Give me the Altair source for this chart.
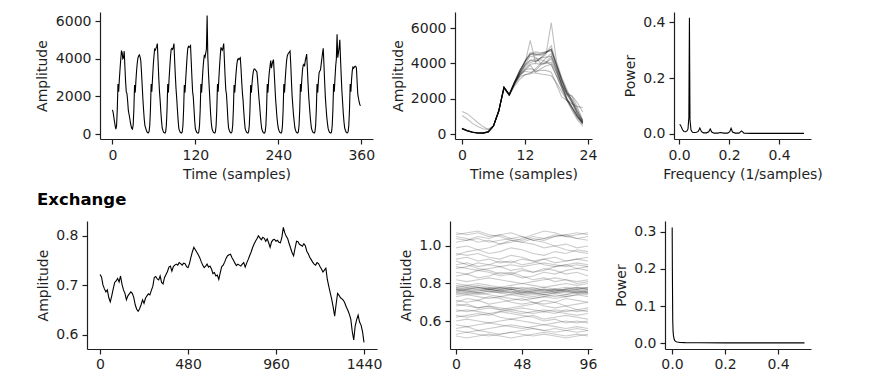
import altair as alt
import pandas as pd

FONT = "DejaVu Sans"
INK = "#1f1f1f"

# ---------------- data ----------------
# hourly series, one list of 24 samples per day (15 days = 360 samples)
traffic_days = [
    [1280, 1150, 900, 650, 420, 260, 450, 1300, 2650, 2250, 2900, 3450, 3950, 4400, 4350, 4000, 4050, 4400, 3600, 2800, 2250, 2150, 1750, 1250],
    [1050, 850, 600, 420, 300, 260, 480, 1300, 2600, 2200, 2850, 3400, 3800, 4050, 4150, 4200, 4100, 3900, 3300, 2600, 1900, 1300, 800, 450],
    [330, 200, 110, 70, 60, 130, 460, 1300, 2650, 2250, 2950, 3600, 4100, 4500, 4450, 4550, 4650, 4800, 3900, 3000, 2300, 1800, 1200, 700],
    [320, 190, 100, 60, 50, 120, 450, 1300, 2650, 2200, 2950, 3550, 4100, 4500, 4550, 4500, 4600, 4800, 3900, 3100, 2400, 1900, 1300, 750],
    [300, 180, 100, 60, 50, 120, 450, 1300, 2600, 2200, 2900, 3500, 4100, 4550, 4650, 4600, 4650, 4700, 3850, 3000, 2250, 1950, 1350, 700],
    [280, 170, 90, 55, 50, 120, 450, 1300, 2650, 2200, 2850, 3450, 3900, 4200, 4100, 4300, 4500, 6300, 4100, 3200, 2500, 1800, 1100, 600],
    [300, 180, 100, 60, 50, 120, 450, 1300, 2650, 2250, 2950, 3600, 4150, 4600, 4500, 4450, 4600, 4800, 3900, 3050, 2350, 2100, 1500, 800],
    [330, 200, 110, 65, 55, 125, 450, 1300, 2600, 2200, 2800, 3300, 3700, 3950, 4000, 3950, 4000, 4050, 3500, 2800, 2200, 1800, 1200, 700],
    [300, 180, 100, 60, 50, 120, 450, 1300, 2600, 2200, 2700, 3100, 3350, 3450, 3450, 3400, 3350, 3300, 2900, 2400, 1900, 1500, 1000, 600],
    [280, 170, 90, 55, 50, 120, 450, 1300, 2650, 2200, 2850, 3300, 3600, 3900, 3500, 3700, 3850, 3950, 3300, 2600, 1900, 1400, 900, 550],
    [300, 180, 100, 60, 50, 120, 450, 1300, 2650, 2200, 2900, 3450, 3900, 4150, 4250, 4300, 4350, 4400, 3700, 2800, 2000, 1500, 1000, 650],
    [320, 190, 100, 60, 50, 120, 450, 1300, 2650, 2250, 2900, 3400, 3650, 3700, 3600, 3900, 4050, 4250, 3500, 2700, 2000, 1500, 1000, 600],
    [300, 180, 100, 60, 50, 120, 450, 1300, 2650, 2200, 2800, 3250, 3350, 3400, 3700, 4000, 4300, 4550, 3700, 2800, 2000, 1450, 950, 600],
    [310, 180, 100, 60, 50, 120, 450, 1300, 2650, 2250, 2950, 3600, 4000, 5300, 4050, 4300, 4600, 5000, 4000, 3100, 2300, 1700, 1100, 650],
    [330, 200, 110, 65, 55, 125, 450, 1300, 2650, 2250, 2900, 3350, 3550, 3500, 3550, 3600, 3600, 3500, 2800, 2100, 1900, 1700, 1550, 1500],
]

# exchange rate, read every 8 samples (0 .. 1440)
exchange_values = [
    0.722, 0.717, 0.701, 0.693, 0.687, 0.691, 0.675, 0.667, 0.679, 0.693,
    0.706, 0.709, 0.714, 0.707, 0.719, 0.702, 0.691, 0.684, 0.671, 0.679,
    0.683, 0.687, 0.684, 0.676, 0.661, 0.652, 0.648, 0.653, 0.661, 0.671,
    0.664, 0.674, 0.679, 0.683, 0.681, 0.690, 0.698, 0.716, 0.718, 0.713,
    0.711, 0.719, 0.706, 0.703, 0.716, 0.722, 0.728, 0.737, 0.739, 0.729,
    0.738, 0.741, 0.743, 0.741, 0.746, 0.744, 0.741, 0.745, 0.744, 0.738,
    0.736, 0.744, 0.757, 0.768, 0.777, 0.772, 0.767, 0.762, 0.756, 0.748,
    0.741, 0.736, 0.739, 0.743, 0.737, 0.739, 0.733, 0.724, 0.726, 0.719,
    0.721, 0.712, 0.726, 0.738, 0.741, 0.747, 0.755, 0.760, 0.762, 0.763,
    0.756, 0.751, 0.745, 0.740, 0.743, 0.741, 0.739, 0.743, 0.746, 0.737,
    0.745, 0.752, 0.760, 0.767, 0.776, 0.783, 0.789, 0.794, 0.800, 0.796,
    0.792, 0.797, 0.795, 0.789, 0.794, 0.786, 0.777, 0.788, 0.792, 0.793,
    0.789, 0.791, 0.787, 0.786, 0.797, 0.817, 0.806, 0.799, 0.794, 0.784,
    0.775, 0.766, 0.760, 0.775, 0.789, 0.788, 0.783, 0.781, 0.779, 0.784,
    0.780, 0.769, 0.764, 0.757, 0.752, 0.747, 0.743, 0.741, 0.746, 0.744,
    0.738, 0.733, 0.727, 0.731, 0.735, 0.712, 0.698, 0.685, 0.672, 0.656,
    0.638, 0.662, 0.684, 0.680, 0.675, 0.673, 0.670, 0.664, 0.656, 0.650,
    0.642, 0.632, 0.607, 0.590, 0.618, 0.631, 0.640, 0.626, 0.620, 0.607,
    0.585,
]
exchange_step = 8

# 96-sample windows, read every 8 samples (0 .. 96)
window_step = 8
window_lines = [
    [1.07, 1.06, 1.07, 1.05, 1.06, 1.04, 1.05, 1.03, 1.04, 1.05, 1.06, 1.07, 1.06],
    [1.05, 1.04, 1.02, 1.03, 1.01, 1.02, 1.04, 1.06, 1.08, 1.07, 1.05, 1.04, 1.05],
    [1.02, 1.03, 1.05, 1.04, 1.06, 1.07, 1.05, 1.03, 1.02, 1.00, 1.01, 0.99, 1.00],
    [0.99, 1.00, 0.98, 0.99, 1.01, 1.03, 1.02, 1.04, 1.03, 1.05, 1.06, 1.04, 1.03],
    [1.06, 1.07, 1.08, 1.06, 1.05, 1.03, 1.02, 1.01, 0.99, 1.00, 0.98, 0.97, 0.96],
    [0.96, 0.95, 0.96, 0.94, 0.93, 0.95, 0.94, 0.92, 0.93, 0.91, 0.92, 0.93, 0.92],
    [0.93, 0.94, 0.92, 0.93, 0.91, 0.92, 0.90, 0.91, 0.93, 0.94, 0.92, 0.93, 0.94],
    [0.90, 0.91, 0.89, 0.90, 0.92, 0.91, 0.93, 0.92, 0.90, 0.89, 0.90, 0.91, 0.90],
    [0.88, 0.89, 0.91, 0.90, 0.89, 0.87, 0.88, 0.86, 0.87, 0.89, 0.90, 0.88, 0.89],
    [0.86, 0.85, 0.87, 0.86, 0.84, 0.85, 0.83, 0.84, 0.86, 0.85, 0.87, 0.88, 0.87],
    [0.92, 0.90, 0.88, 0.87, 0.85, 0.86, 0.84, 0.82, 0.83, 0.81, 0.82, 0.80, 0.81],
    [0.84, 0.85, 0.83, 0.84, 0.86, 0.85, 0.87, 0.86, 0.88, 0.87, 0.85, 0.86, 0.84],
    [0.95, 0.97, 0.98, 0.96, 0.97, 0.99, 0.98, 0.96, 0.95, 0.97, 0.96, 0.98, 0.97],
    [0.77, 0.78, 0.77, 0.76, 0.77, 0.76, 0.75, 0.76, 0.75, 0.76, 0.77, 0.76, 0.77],
    [0.76, 0.77, 0.76, 0.77, 0.76, 0.75, 0.76, 0.75, 0.74, 0.75, 0.76, 0.77, 0.76],
    [0.78, 0.77, 0.78, 0.77, 0.76, 0.77, 0.76, 0.75, 0.76, 0.75, 0.76, 0.75, 0.76],
    [0.75, 0.76, 0.75, 0.76, 0.75, 0.76, 0.74, 0.75, 0.74, 0.73, 0.74, 0.75, 0.74],
    [0.77, 0.76, 0.77, 0.78, 0.77, 0.78, 0.77, 0.76, 0.77, 0.76, 0.77, 0.78, 0.77],
    [0.79, 0.78, 0.79, 0.78, 0.77, 0.78, 0.77, 0.78, 0.76, 0.77, 0.76, 0.77, 0.78],
    [0.74, 0.75, 0.74, 0.75, 0.76, 0.75, 0.74, 0.73, 0.74, 0.75, 0.74, 0.76, 0.75],
    [0.76, 0.75, 0.76, 0.77, 0.78, 0.77, 0.76, 0.77, 0.78, 0.77, 0.76, 0.75, 0.76],
    [0.78, 0.79, 0.78, 0.77, 0.78, 0.77, 0.78, 0.77, 0.76, 0.77, 0.78, 0.77, 0.78],
    [0.75, 0.74, 0.75, 0.74, 0.73, 0.74, 0.73, 0.72, 0.73, 0.74, 0.73, 0.74, 0.75],
    [0.77, 0.76, 0.75, 0.76, 0.75, 0.74, 0.75, 0.76, 0.77, 0.76, 0.75, 0.76, 0.75],
    [0.80, 0.79, 0.80, 0.79, 0.78, 0.79, 0.80, 0.79, 0.78, 0.79, 0.80, 0.79, 0.80],
    [0.76, 0.77, 0.78, 0.77, 0.76, 0.77, 0.75, 0.74, 0.75, 0.76, 0.77, 0.78, 0.77],
    [0.73, 0.74, 0.73, 0.72, 0.73, 0.72, 0.71, 0.72, 0.73, 0.72, 0.73, 0.74, 0.73],
    [0.71, 0.70, 0.71, 0.69, 0.70, 0.71, 0.72, 0.70, 0.69, 0.70, 0.68, 0.69, 0.70],
    [0.68, 0.69, 0.67, 0.68, 0.66, 0.67, 0.68, 0.69, 0.71, 0.70, 0.72, 0.71, 0.70],
    [0.65, 0.66, 0.65, 0.64, 0.65, 0.66, 0.65, 0.64, 0.65, 0.64, 0.66, 0.65, 0.66],
    [0.66, 0.65, 0.66, 0.67, 0.66, 0.65, 0.64, 0.65, 0.66, 0.65, 0.64, 0.63, 0.64],
    [0.63, 0.62, 0.63, 0.64, 0.62, 0.61, 0.62, 0.63, 0.61, 0.62, 0.63, 0.62, 0.61],
    [0.70, 0.72, 0.71, 0.73, 0.72, 0.70, 0.69, 0.70, 0.68, 0.67, 0.68, 0.66, 0.67],
    [0.60, 0.61, 0.60, 0.59, 0.60, 0.61, 0.60, 0.59, 0.58, 0.59, 0.60, 0.59, 0.60],
    [0.58, 0.57, 0.58, 0.59, 0.58, 0.57, 0.56, 0.57, 0.58, 0.57, 0.56, 0.57, 0.56],
    [0.56, 0.57, 0.55, 0.56, 0.57, 0.58, 0.57, 0.56, 0.55, 0.56, 0.55, 0.54, 0.55],
    [0.53, 0.54, 0.53, 0.52, 0.53, 0.54, 0.53, 0.52, 0.53, 0.52, 0.51, 0.52, 0.53],
    [0.52, 0.51, 0.52, 0.53, 0.52, 0.51, 0.52, 0.53, 0.54, 0.53, 0.52, 0.53, 0.52],
    [0.55, 0.54, 0.55, 0.54, 0.53, 0.54, 0.55, 0.56, 0.55, 0.54, 0.55, 0.56, 0.55],
    [0.62, 0.63, 0.64, 0.63, 0.65, 0.64, 0.63, 0.62, 0.60, 0.61, 0.59, 0.60, 0.59],
    [0.69, 0.68, 0.67, 0.68, 0.67, 0.66, 0.67, 0.66, 0.65, 0.66, 0.65, 0.66, 0.65],
    [0.82, 0.81, 0.82, 0.83, 0.82, 0.81, 0.80, 0.81, 0.82, 0.83, 0.82, 0.81, 0.82],
    [0.89, 0.88, 0.87, 0.88, 0.89, 0.90, 0.89, 0.90, 0.91, 0.90, 0.89, 0.90, 0.89],
    [1.04, 1.03, 1.04, 1.02, 1.03, 1.04, 1.03, 1.05, 1.04, 1.06, 1.05, 1.06, 1.07],
]

# power spectra
traffic_freq = [0.003, 0.008, 0.014, 0.020, 0.026, 0.032, 0.036, 0.0395, 0.0417, 0.044,
                0.048, 0.054, 0.062, 0.070, 0.077, 0.0833, 0.090, 0.098, 0.110, 0.119,
                0.125, 0.131, 0.140, 0.155, 0.167, 0.178, 0.195, 0.203, 0.2083, 0.214,
                0.225, 0.240, 0.250, 0.260, 0.290, 0.330, 0.375, 0.420, 0.460, 0.500]
traffic_power = [0.035, 0.028, 0.015, 0.009, 0.008, 0.011, 0.018, 0.06, 0.415, 0.05,
                 0.014, 0.006, 0.005, 0.006, 0.009, 0.021, 0.008, 0.004, 0.004, 0.008,
                 0.018, 0.007, 0.003, 0.003, 0.005, 0.003, 0.003, 0.008, 0.020, 0.007,
                 0.003, 0.003, 0.011, 0.003, 0.002, 0.002, 0.002, 0.002, 0.002, 0.002]
exchange_freq = [0.0007, 0.0014, 0.0028, 0.0042, 0.0056, 0.0070, 0.0083, 0.0100, 0.0125,
                 0.0160, 0.0200, 0.0300, 0.0500, 0.1000, 0.2000, 0.3000, 0.4000, 0.5000]
exchange_power = [0.312, 0.20, 0.06, 0.03, 0.02, 0.014, 0.010, 0.007, 0.005,
                  0.0035, 0.0025, 0.0015, 0.001, 0.0006, 0.0004, 0.0003, 0.0003, 0.0003]

# ---------------- tables ----------------
rows = []
for d, day in enumerate(traffic_days):
    for h, v in enumerate(day):
        rows.append({"t": d * 24 + h, "hour": h, "day": d, "v": v})
traffic = pd.DataFrame(rows)

exchange = pd.DataFrame({"t": [i * exchange_step for i in range(len(exchange_values))],
                         "v": exchange_values})

wrows = []
for k, line in enumerate(window_lines):
    for i, v in enumerate(line):
        wrows.append({"t": i * window_step, "line": k, "v": v})
windows = pd.DataFrame(wrows)

spec_t = pd.DataFrame({"f": traffic_freq, "p": traffic_power})
spec_e = pd.DataFrame({"f": exchange_freq, "p": exchange_power})


def sc(lo, hi):
    return alt.Scale(domain=[lo, hi], nice=False, zero=False)


def ax(vals, fmt, title=None, tp=5, lp=4):
    return alt.Axis(values=vals, format=fmt, title=title, titlePadding=tp, labelPadding=lp)


LW = 1.1
p1 = alt.Chart(traffic).mark_line(color="black", strokeWidth=LW).encode(
    x=alt.X("t:Q", scale=sc(-18, 377), axis=ax([0, 120, 240, 360], "d", "Time (samples)")),
    y=alt.Y("v:Q", scale=sc(-265, 6480), axis=ax([0, 2000, 4000, 6000], "d", "Amplitude", 6)),
).properties(width=273, height=127)

p2 = alt.Chart(traffic).mark_line(color="black", strokeWidth=LW, opacity=0.25).encode(
    x=alt.X("hour:Q", scale=sc(-1.33, 24.76), axis=ax([0, 12, 24], "d", "Time (samples)")),
    y=alt.Y("v:Q", scale=sc(-283, 6906), axis=ax([0, 2000, 4000, 6000], "d", "Amplitude")),
    detail="day:N",
).properties(width=137, height=127)

p3 = alt.Chart(spec_t).mark_line(color="black", strokeWidth=LW).encode(
    x=alt.X("f:Q", scale=sc(-0.02, 0.528), axis=ax([0, 0.2, 0.4], ".1f", "Frequency (1/samples)")),
    y=alt.Y("p:Q", scale=sc(-0.018, 0.436), axis=ax([0, 0.2, 0.4], ".1f", "Power")),
).properties(width=137, height=127)

p4 = alt.Chart(exchange).mark_line(color="black", strokeWidth=LW).encode(
    x=alt.X("t:Q", scale=sc(-71, 1511), axis=ax([0, 480, 960, 1440], "d", lp=3)),
    y=alt.Y("v:Q", scale=sc(0.5717, 0.830), axis=ax([0.6, 0.7, 0.8], ".1f", "Amplitude")),
).properties(
    width=290, height=128,
    title=alt.TitleParams("Exchange", anchor="start", frame="group", dx=-50, offset=13,
                          fontSize=16.5, fontWeight="bold", font=FONT, color="black"),
)

p5 = alt.Chart(windows).mark_line(color="black", strokeWidth=LW, opacity=0.2).encode(
    x=alt.X("t:Q", scale=sc(-4.36, 98.9), axis=ax([0, 48, 96], "d", lp=3)),
    y=alt.Y("v:Q", scale=sc(0.451, 1.133), axis=ax([0.6, 0.8, 1.0], ".1f", "Amplitude")),
    detail="line:N",
).properties(width=142, height=128)

p6 = alt.Chart(spec_e).mark_line(color="black", strokeWidth=LW).encode(
    x=alt.X("f:Q", scale=sc(-0.0264, 0.5245), axis=ax([0, 0.2, 0.4], ".1f", lp=3)),
    y=alt.Y("p:Q", scale=sc(-0.0162, 0.3297), axis=ax([0, 0.1, 0.2, 0.3], ".1f", "Power")),
).properties(width=146, height=128)

spacer = alt.Chart(pd.DataFrame({"a": [0]})).mark_point(opacity=0, size=0).encode(
    x=alt.value(6), y=alt.value(5)
).properties(width=13, height=10)

row1 = alt.hconcat(spacer, alt.hconcat(p1, p2, p3, spacing=82, bounds="flush"),
                   spacing=0, bounds="flush")
row2 = alt.hconcat(p4, p5, p6, spacing=73, bounds="flush")

chart = alt.vconcat(row1, row2, spacing=10).properties(
    padding={"left": 27, "top": 4, "right": 5, "bottom": 1}
).configure_axis(
    grid=False,
    domainColor=INK, domainWidth=1.2,
    tickColor=INK, tickWidth=1.2, tickSize=5,
    labelFont=FONT, labelFontSize=14, labelColor=INK, labelFlush=False,
    titleFont=FONT, titleFontSize=14, titleFontWeight="normal", titleColor=INK,
).configure_view(stroke=None)

chart.save("out.html", embed_options={"renderer": "svg", "actions": False})
